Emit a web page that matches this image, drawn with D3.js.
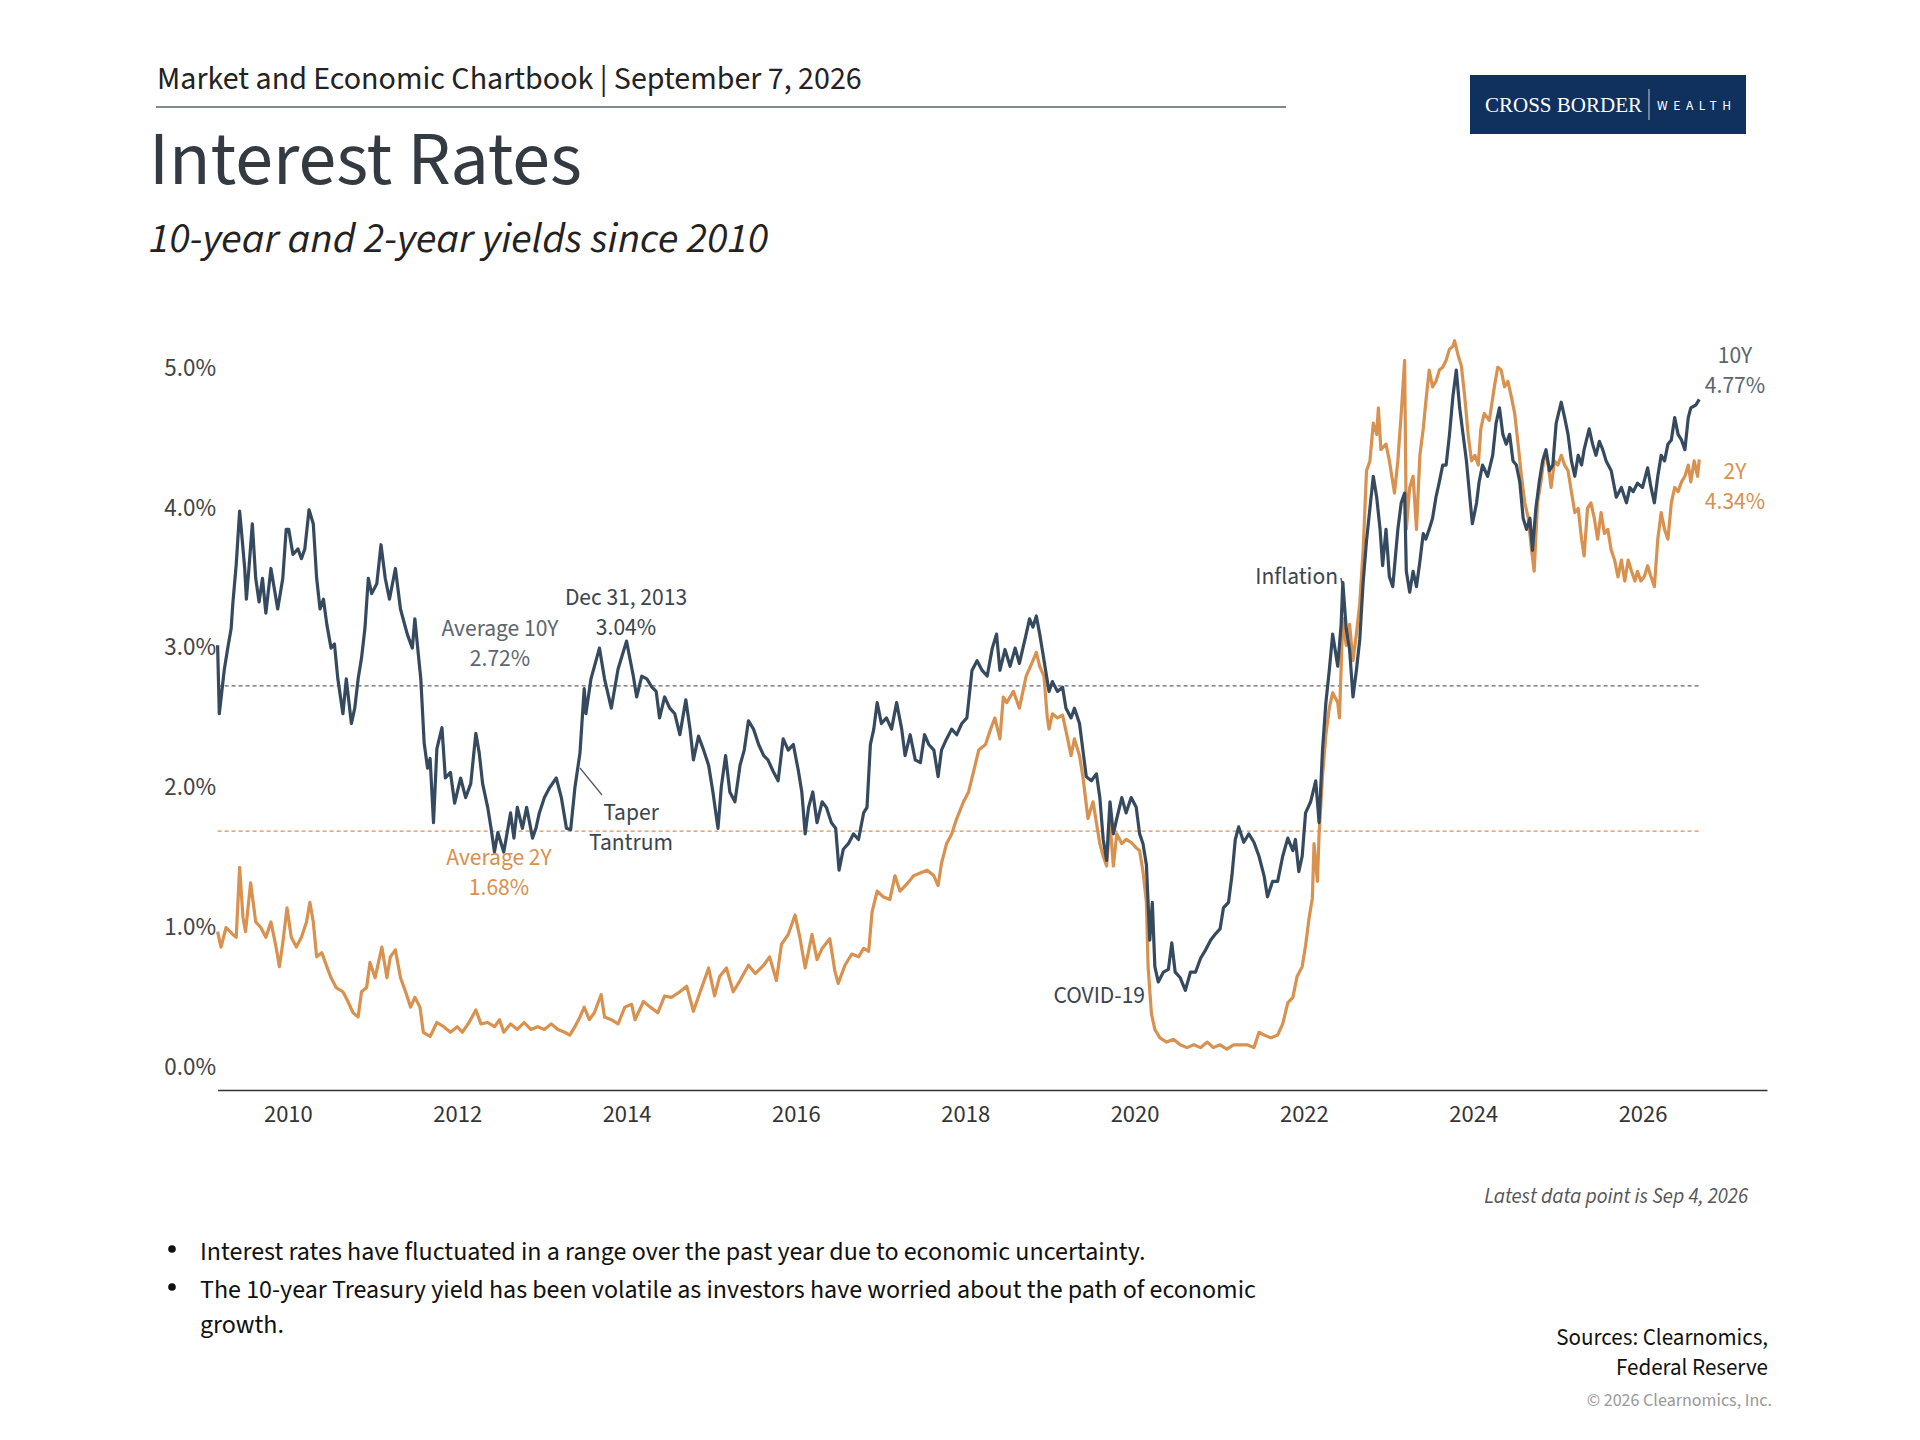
<!DOCTYPE html>
<html lang="en">
<head>
<meta charset="utf-8" />
<title>Interest Rates</title>
<script src="https://cdnjs.cloudflare.com/ajax/libs/d3/7.8.5/d3.min.js"></script>
<style>
  body { margin: 0; background: #fff; }
  svg { display: block; font-family: "Source Sans Pro", "Source Sans 3", Lato, "Noto Sans", sans-serif; }
</style>
</head>
<body>
<script>
// 10-year yield, [decimal year, %]
var tenYear = [
  [2009.17,3.01],[2009.19,2.52],[2009.25,2.84],[2009.29,2.99],[2009.33,3.13],[2009.35,3.31],[2009.39,3.59],
  [2009.43,3.97],[2009.45,3.84],[2009.49,3.56],[2009.51,3.34],[2009.54,3.56],[2009.58,3.88],[2009.62,3.49],
  [2009.66,3.32],[2009.70,3.49],[2009.74,3.24],[2009.80,3.56],[2009.88,3.27],[2009.94,3.49],[2009.98,3.84],
  [2010.01,3.84],[2010.06,3.66],[2010.12,3.70],[2010.16,3.63],[2010.20,3.70],[2010.25,3.98],[2010.30,3.88],
  [2010.34,3.49],[2010.38,3.27],[2010.42,3.34],[2010.46,3.16],[2010.51,2.99],[2010.55,3.02],[2010.59,2.77],
  [2010.65,2.52],[2010.69,2.77],[2010.75,2.45],[2010.79,2.56],[2010.83,2.77],[2010.87,2.92],[2010.91,3.13],
  [2010.95,3.49],[2010.99,3.38],[2011.05,3.45],[2011.10,3.73],[2011.15,3.49],[2011.20,3.34],[2011.27,3.56],
  [2011.33,3.27],[2011.41,3.09],[2011.47,2.99],[2011.50,3.20],[2011.54,2.95],[2011.57,2.77],[2011.61,2.31],
  [2011.65,2.13],[2011.68,2.20],[2011.72,1.74],[2011.76,2.27],[2011.82,2.42],[2011.86,2.06],[2011.92,2.10],
  [2011.97,1.88],[2012.04,2.06],[2012.10,1.92],[2012.16,2.02],[2012.22,2.38],[2012.26,2.24],[2012.30,2.02],
  [2012.36,1.85],[2012.40,1.70],[2012.44,1.53],[2012.48,1.67],[2012.55,1.53],[2012.63,1.81],[2012.67,1.63],
  [2012.71,1.85],[2012.77,1.70],[2012.82,1.85],[2012.89,1.63],[2012.93,1.70],[2012.97,1.81],[2013.03,1.92],
  [2013.09,1.99],[2013.17,2.06],[2013.23,1.92],[2013.29,1.70],[2013.34,1.69],[2013.39,1.99],[2013.45,2.24],
  [2013.50,2.70],[2013.52,2.52],[2013.58,2.77],[2013.68,2.99],[2013.74,2.77],[2013.82,2.56],[2013.90,2.84],
  [2014.00,3.04],[2014.08,2.79],[2014.12,2.64],[2014.18,2.79],[2014.24,2.77],[2014.30,2.71],[2014.35,2.68],
  [2014.39,2.49],[2014.45,2.64],[2014.51,2.56],[2014.57,2.52],[2014.63,2.37],[2014.70,2.62],[2014.75,2.41],
  [2014.79,2.19],[2014.85,2.36],[2014.91,2.26],[2014.97,2.15],[2015.02,1.96],[2015.08,1.70],[2015.12,2.00],
  [2015.17,2.22],[2015.22,1.96],[2015.28,1.89],[2015.34,2.15],[2015.39,2.26],[2015.44,2.47],[2015.50,2.41],
  [2015.56,2.30],[2015.62,2.22],[2015.67,2.19],[2015.73,2.11],[2015.79,2.04],[2015.85,2.34],[2015.91,2.26],
  [2015.97,2.30],[2016.03,2.11],[2016.07,1.96],[2016.11,1.66],[2016.15,1.85],[2016.20,1.96],[2016.25,1.74],
  [2016.31,1.89],[2016.36,1.85],[2016.42,1.74],[2016.47,1.70],[2016.51,1.40],[2016.56,1.55],[2016.62,1.59],
  [2016.68,1.66],[2016.74,1.62],[2016.80,1.81],[2016.84,1.85],[2016.88,2.30],[2016.92,2.41],[2016.96,2.60],
  [2017.01,2.45],[2017.07,2.49],[2017.13,2.41],[2017.19,2.60],[2017.25,2.41],[2017.29,2.22],[2017.35,2.37],
  [2017.41,2.19],[2017.47,2.17],[2017.52,2.37],[2017.57,2.30],[2017.63,2.26],[2017.68,2.07],[2017.72,2.26],
  [2017.78,2.34],[2017.84,2.41],[2017.90,2.37],[2017.96,2.45],[2018.02,2.49],[2018.08,2.83],[2018.14,2.90],
  [2018.20,2.83],[2018.26,2.79],[2018.32,2.99],[2018.37,3.09],[2018.41,2.83],[2018.47,2.98],[2018.53,2.86],
  [2018.59,2.99],[2018.64,2.88],[2018.72,3.09],[2018.76,3.20],[2018.80,3.14],[2018.84,3.22],[2018.88,3.09],
  [2018.91,2.98],[2018.95,2.83],[2018.99,2.68],[2019.03,2.75],[2019.09,2.68],[2019.15,2.71],[2019.19,2.56],
  [2019.25,2.49],[2019.29,2.56],[2019.35,2.45],[2019.39,2.26],[2019.43,2.07],[2019.49,2.04],[2019.55,2.09],
  [2019.59,1.92],[2019.63,1.62],[2019.67,1.47],[2019.71,1.89],[2019.75,1.66],[2019.79,1.77],[2019.85,1.92],
  [2019.90,1.81],[2019.96,1.92],[2020.02,1.85],[2020.06,1.66],[2020.10,1.59],[2020.14,1.44],[2020.18,0.90],
  [2020.21,1.17],[2020.24,0.71],[2020.28,0.60],[2020.34,0.67],[2020.40,0.69],[2020.44,0.88],[2020.48,0.67],
  [2020.54,0.63],[2020.60,0.54],[2020.66,0.67],[2020.72,0.67],[2020.78,0.77],[2020.84,0.83],[2020.90,0.90],
  [2020.95,0.94],[2021.01,0.98],[2021.05,1.13],[2021.11,1.17],[2021.15,1.36],[2021.19,1.62],[2021.23,1.71],
  [2021.29,1.60],[2021.35,1.66],[2021.41,1.60],[2021.47,1.50],[2021.53,1.36],[2021.57,1.21],[2021.63,1.32],
  [2021.69,1.32],[2021.75,1.50],[2021.81,1.63],[2021.87,1.54],[2021.90,1.62],[2021.94,1.39],[2021.98,1.50],
  [2022.02,1.81],[2022.08,1.89],[2022.14,2.04],[2022.18,1.74],[2022.22,2.26],[2022.26,2.60],[2022.30,2.83],
  [2022.34,3.09],[2022.40,2.86],[2022.44,3.16],[2022.46,3.46],[2022.50,3.13],[2022.54,2.98],[2022.58,2.64],
  [2022.62,2.83],[2022.66,3.05],[2022.70,3.46],[2022.74,3.76],[2022.78,3.99],[2022.82,4.22],[2022.86,4.07],
  [2022.90,3.84],[2022.93,3.58],[2022.97,3.84],[2023.01,3.50],[2023.05,3.43],[2023.11,3.84],[2023.15,4.03],
  [2023.19,4.10],[2023.21,3.54],[2023.25,3.39],[2023.29,3.54],[2023.33,3.43],[2023.37,3.61],[2023.41,3.81],
  [2023.44,3.77],[2023.48,3.84],[2023.52,3.92],[2023.56,4.07],[2023.60,4.18],[2023.64,4.30],[2023.68,4.30],
  [2023.72,4.52],[2023.76,4.79],[2023.80,4.98],[2023.84,4.71],[2023.88,4.52],[2023.92,4.33],[2023.96,4.07],
  [2023.99,3.88],[2024.04,4.03],[2024.07,4.18],[2024.11,4.30],[2024.17,4.22],[2024.23,4.37],[2024.27,4.60],
  [2024.31,4.71],[2024.35,4.52],[2024.39,4.45],[2024.43,4.52],[2024.47,4.33],[2024.51,4.30],[2024.55,4.18],
  [2024.59,3.92],[2024.63,3.84],[2024.67,3.92],[2024.70,3.69],[2024.74,3.99],[2024.78,4.18],[2024.82,4.33],
  [2024.86,4.41],[2024.90,4.26],[2024.94,4.30],[2024.98,4.60],[2025.04,4.75],[2025.08,4.64],[2025.12,4.52],
  [2025.16,4.33],[2025.20,4.22],[2025.24,4.37],[2025.28,4.30],[2025.31,4.41],[2025.37,4.56],[2025.41,4.45],
  [2025.45,4.37],[2025.49,4.47],[2025.53,4.41],[2025.57,4.33],[2025.63,4.26],[2025.69,4.07],[2025.75,4.14],
  [2025.81,4.03],[2025.85,4.14],[2025.89,4.11],[2025.94,4.17],[2026.00,4.14],[2026.06,4.28],[2026.10,4.14],
  [2026.14,4.03],[2026.18,4.22],[2026.22,4.37],[2026.26,4.33],[2026.30,4.45],[2026.34,4.48],[2026.38,4.64],
  [2026.42,4.52],[2026.46,4.48],[2026.50,4.41],[2026.54,4.64],[2026.57,4.71],[2026.63,4.73],[2026.67,4.77]
];

// 2-year yield, [decimal year, %]
var twoYear = [
  [2009.17,0.96],[2009.21,0.85],[2009.27,0.99],[2009.35,0.94],[2009.39,0.92],[2009.43,1.42],[2009.47,1.06],
  [2009.50,0.96],[2009.56,1.31],[2009.62,1.03],[2009.68,0.99],[2009.74,0.92],[2009.80,1.03],[2009.86,0.85],
  [2009.90,0.71],[2009.94,0.88],[2009.99,1.13],[2010.04,0.92],[2010.10,0.85],[2010.16,0.92],[2010.22,1.03],
  [2010.26,1.17],[2010.30,1.03],[2010.34,0.78],[2010.40,0.81],[2010.46,0.71],[2010.51,0.63],[2010.57,0.56],
  [2010.65,0.53],[2010.71,0.46],[2010.77,0.38],[2010.83,0.35],[2010.87,0.53],[2010.93,0.56],[2010.97,0.74],
  [2011.03,0.63],[2011.11,0.85],[2011.17,0.63],[2011.21,0.78],[2011.27,0.83],[2011.33,0.63],[2011.39,0.53],
  [2011.45,0.42],[2011.50,0.49],[2011.56,0.42],[2011.60,0.24],[2011.68,0.21],[2011.76,0.31],[2011.84,0.28],
  [2011.92,0.24],[2012.00,0.28],[2012.06,0.24],[2012.14,0.31],[2012.22,0.40],[2012.28,0.30],[2012.36,0.31],
  [2012.44,0.28],[2012.50,0.33],[2012.55,0.24],[2012.63,0.30],[2012.71,0.26],[2012.79,0.31],[2012.87,0.26],
  [2012.95,0.28],[2013.03,0.26],[2013.11,0.30],[2013.19,0.26],[2013.27,0.24],[2013.33,0.22],[2013.39,0.28],
  [2013.45,0.35],[2013.50,0.42],[2013.56,0.33],[2013.62,0.38],[2013.70,0.51],[2013.74,0.35],[2013.82,0.33],
  [2013.90,0.30],[2013.98,0.42],[2014.06,0.44],[2014.10,0.33],[2014.20,0.46],[2014.28,0.42],[2014.37,0.38],
  [2014.45,0.50],[2014.53,0.49],[2014.63,0.53],[2014.71,0.57],[2014.79,0.39],[2014.87,0.53],[2014.97,0.70],
  [2015.04,0.50],[2015.10,0.64],[2015.18,0.70],[2015.26,0.53],[2015.34,0.61],[2015.44,0.72],[2015.52,0.66],
  [2015.62,0.72],[2015.69,0.78],[2015.77,0.61],[2015.83,0.87],[2015.91,0.94],[2015.99,1.08],[2016.05,0.91],
  [2016.11,0.70],[2016.19,0.94],[2016.25,0.76],[2016.31,0.84],[2016.40,0.91],[2016.46,0.68],[2016.50,0.59],
  [2016.58,0.72],[2016.66,0.80],[2016.74,0.78],[2016.80,0.84],[2016.86,0.82],[2016.90,1.10],[2016.96,1.25],
  [2017.03,1.21],[2017.11,1.19],[2017.17,1.36],[2017.23,1.25],[2017.31,1.30],[2017.39,1.36],[2017.47,1.38],
  [2017.55,1.40],[2017.63,1.36],[2017.68,1.29],[2017.72,1.45],[2017.78,1.59],[2017.84,1.66],[2017.90,1.77],
  [2017.98,1.89],[2018.04,1.96],[2018.10,2.11],[2018.16,2.26],[2018.24,2.30],[2018.30,2.41],[2018.35,2.49],
  [2018.41,2.34],[2018.45,2.64],[2018.49,2.60],[2018.57,2.68],[2018.64,2.56],[2018.72,2.79],[2018.80,2.90],
  [2018.84,2.96],[2018.88,2.86],[2018.93,2.79],[2018.97,2.49],[2018.99,2.41],[2019.03,2.52],[2019.09,2.49],
  [2019.15,2.51],[2019.21,2.34],[2019.25,2.22],[2019.29,2.34],[2019.35,2.22],[2019.39,2.07],[2019.45,1.77],
  [2019.51,1.89],[2019.55,1.74],[2019.59,1.59],[2019.63,1.50],[2019.67,1.43],[2019.71,1.74],[2019.75,1.43],
  [2019.79,1.66],[2019.85,1.59],[2019.90,1.62],[2019.96,1.60],[2020.02,1.56],[2020.06,1.54],[2020.10,1.39],
  [2020.14,1.17],[2020.16,0.71],[2020.20,0.37],[2020.24,0.26],[2020.30,0.20],[2020.38,0.17],[2020.46,0.19],
  [2020.54,0.15],[2020.62,0.13],[2020.70,0.15],[2020.78,0.13],[2020.86,0.17],[2020.93,0.13],[2021.01,0.15],
  [2021.09,0.12],[2021.17,0.15],[2021.25,0.15],[2021.33,0.15],[2021.41,0.13],[2021.47,0.24],[2021.53,0.22],
  [2021.61,0.20],[2021.69,0.22],[2021.75,0.30],[2021.81,0.45],[2021.87,0.49],[2021.92,0.64],[2021.98,0.71],
  [2022.02,0.86],[2022.06,1.05],[2022.10,1.20],[2022.12,1.59],[2022.16,1.32],[2022.18,1.66],[2022.22,2.07],
  [2022.26,2.37],[2022.30,2.56],[2022.34,2.67],[2022.40,2.60],[2022.42,2.49],[2022.46,3.20],[2022.50,3.01],
  [2022.54,3.16],[2022.58,2.90],[2022.62,3.09],[2022.66,3.31],[2022.70,3.69],[2022.74,4.26],[2022.78,4.33],
  [2022.82,4.60],[2022.86,4.52],[2022.88,4.71],[2022.91,4.41],[2022.97,4.45],[2023.01,4.33],[2023.07,4.10],
  [2023.11,4.33],[2023.15,4.67],[2023.19,5.05],[2023.21,3.84],[2023.25,4.14],[2023.29,4.22],[2023.33,3.84],
  [2023.37,4.37],[2023.41,4.56],[2023.44,4.75],[2023.48,4.98],[2023.52,4.86],[2023.56,4.90],[2023.60,4.98],
  [2023.64,5.00],[2023.68,5.05],[2023.72,5.13],[2023.76,5.15],[2023.78,5.19],[2023.82,5.09],[2023.86,5.01],
  [2023.90,4.79],[2023.94,4.52],[2023.98,4.33],[2024.02,4.37],[2024.06,4.30],[2024.09,4.56],[2024.13,4.67],
  [2024.19,4.62],[2024.25,4.86],[2024.29,5.00],[2024.33,4.98],[2024.37,4.86],[2024.41,4.90],[2024.45,4.79],
  [2024.49,4.67],[2024.53,4.45],[2024.57,4.22],[2024.61,4.03],[2024.65,3.92],[2024.69,3.69],[2024.72,3.54],
  [2024.76,4.03],[2024.80,4.18],[2024.84,4.37],[2024.88,4.33],[2024.92,4.14],[2024.96,4.33],[2025.00,4.30],
  [2025.04,4.37],[2025.08,4.30],[2025.12,4.26],[2025.16,4.11],[2025.20,3.96],[2025.24,3.99],[2025.28,3.77],
  [2025.31,3.65],[2025.35,3.99],[2025.39,4.03],[2025.43,3.92],[2025.47,3.77],[2025.51,3.96],[2025.55,3.81],
  [2025.59,3.84],[2025.63,3.69],[2025.67,3.62],[2025.71,3.50],[2025.75,3.62],[2025.79,3.47],[2025.83,3.62],
  [2025.87,3.54],[2025.91,3.47],[2025.94,3.54],[2025.98,3.47],[2026.02,3.50],[2026.06,3.58],[2026.10,3.50],
  [2026.14,3.43],[2026.18,3.77],[2026.22,3.96],[2026.26,3.84],[2026.30,3.77],[2026.34,4.03],[2026.38,4.14],
  [2026.42,4.11],[2026.46,4.18],[2026.50,4.22],[2026.54,4.30],[2026.57,4.18],[2026.61,4.33],[2026.65,4.22],
  [2026.67,4.34]
];

var avg10 = 2.72;
var avg2 = 1.68;
var yTicks = [0, 1, 2, 3, 4, 5];
var xTicks = [2010, 2012, 2014, 2016, 2018, 2020, 2022, 2024, 2026];
var bullets = [
  ["Interest rates have fluctuated in a range over the past year due to economic uncertainty."],
  ["The 10-year Treasury yield has been volatile as investors have worried about the path of economic", "growth."]
];

var navy = "#354a5f", orange = "#d8914f", grey = "#5b6670", ink = "#3a4550";

var svg = d3.select("body").append("svg")
  .attr("width", 1920)
  .attr("height", 1440);

// header
svg.append("text").attr("x", 157).attr("y", 89)
  .attr("font-size", 32).attr("fill", "#222")
  .text("Market and Economic Chartbook | September 7, 2026");
svg.append("line").attr("x1", 156).attr("x2", 1286).attr("y1", 107).attr("y2", 107)
  .attr("stroke", "#56616b").attr("stroke-width", 1.5);
svg.append("text").attr("x", 149).attr("y", 184)
  .attr("font-size", 76).attr("fill", "#333a42")
  .text("Interest Rates");
svg.append("text").attr("x", 149).attr("y", 252)
  .attr("font-size", 42.5).attr("font-style", "italic").attr("fill", "#222")
  .text("10-year and 2-year yields since 2010");

// logo
var logo = svg.append("g");
logo.append("rect").attr("x", 1470).attr("y", 75).attr("width", 276).attr("height", 59).attr("fill", "#10305e");
logo.append("text").attr("x", 1485).attr("y", 112)
  .attr("font-family", "'Liberation Serif', 'DejaVu Serif', serif")
  .attr("font-size", 21).attr("fill", "#fff").text("CROSS BORDER");
logo.append("line").attr("x1", 1649).attr("x2", 1649).attr("y1", 89).attr("y2", 120)
  .attr("stroke", "#c9d2de").attr("stroke-width", 1);
logo.append("text").attr("x", 1657).attr("y", 110)
  .attr("font-size", 13.5).attr("letter-spacing", 5.6).attr("fill", "#fff").text("WEALTH");

// scales
var x = d3.scaleLinear().domain([2009.17, 2027.47]).range([217.6, 1767]);
var y = d3.scaleLinear().domain([0, 5]).range([1065.8, 367.3]);
var xEnd = d3.max(tenYear, function (d) { return d[0]; });

// y labels
svg.append("g").selectAll("text")
  .data(yTicks).enter().append("text")
  .attr("x", 216).attr("y", function (d) { return y(d); })
  .attr("dy", "0.35em").attr("text-anchor", "end")
  .attr("font-size", 25).attr("fill", "#444")
  .text(function (d) { return d.toFixed(1) + "%"; });

// x axis
var xAxis = d3.axisBottom(x).tickValues(xTicks).tickSize(0).tickPadding(15).tickFormat(d3.format("d"));
var gx = svg.append("g").attr("transform", "translate(0,1090)").call(xAxis)
  .attr("font-family", null).attr("font-size", null);
gx.select(".domain").attr("stroke", "#333").attr("stroke-width", 1.5);
gx.selectAll("text").attr("font-size", 24.5).attr("fill", "#333");

// averages
svg.append("line").attr("x1", x(2009.17)).attr("x2", x(xEnd))
  .attr("y1", y(avg10)).attr("y2", y(avg10))
  .attr("stroke", "#666").attr("stroke-width", 1.3).attr("stroke-dasharray", "4,3");
svg.append("line").attr("x1", x(2009.17)).attr("x2", x(xEnd))
  .attr("y1", y(avg2)).attr("y2", y(avg2))
  .attr("stroke", orange).attr("stroke-width", 1.3).attr("stroke-dasharray", "4,3");

// series
var line = d3.line()
  .x(function (d) { return x(d[0]); })
  .y(function (d) { return y(d[1]); });
svg.append("path").datum(twoYear).attr("d", line)
  .attr("fill", "none").attr("stroke", orange).attr("stroke-width", 3.2).attr("stroke-linejoin", "round");
svg.append("path").datum(tenYear).attr("d", line)
  .attr("fill", "none").attr("stroke", navy).attr("stroke-width", 3.2).attr("stroke-linejoin", "round");

// annotations
function label(lines, cx, cy, color, anchor) {
  var t = svg.append("text").attr("font-size", 23.5).attr("fill", color)
    .attr("text-anchor", anchor || "middle");
  lines.forEach(function (s, i) {
    t.append("tspan").attr("x", cx).attr("y", cy + i * 30).attr("dy", "0.35em").text(s);
  });
}
label(["Average 10Y", avg10.toFixed(2) + "%"], 500, 628, grey);
label(["Dec 31, 2013", "3.04%"], 626, 597, ink);
label(["Taper", "Tantrum"], 631, 812, ink);
label(["Average 2Y", avg2.toFixed(2) + "%"], 499, 857, orange);
label(["Inflation"], 1338, 576, ink, "end");
label(["COVID-19"], 1145, 995, ink, "end");
label(["10Y", "4.77%"], 1735, 355, grey);
label(["2Y", "4.34%"], 1735, 471, orange);
svg.append("line").attr("x1", 580).attr("y1", 768).attr("x2", 602).attr("y2", 795)
  .attr("stroke", "#555").attr("stroke-width", 1.2);
svg.append("line").attr("x1", 1341).attr("y1", 578).attr("x2", 1342).attr("y2", 585)
  .attr("stroke", "#555").attr("stroke-width", 1.5);

svg.append("text").attr("x", 1748).attr("y", 1203).attr("text-anchor", "end")
  .attr("font-size", 21).attr("font-style", "italic").attr("fill", "#555")
  .text("Latest data point is Sep 4, 2026");

// bullets
var by = [1251, 1289];
bullets.forEach(function (b, i) {
  svg.append("circle").attr("cx", 172).attr("cy", by[i] - 2).attr("r", 3.8).attr("fill", "#111");
  b.forEach(function (s, j) {
    svg.append("text").attr("x", 200).attr("y", by[i] + j * 35).attr("dy", "0.35em")
      .attr("font-size", 26).attr("fill", "#111").text(s);
  });
});

// sources
svg.append("text").attr("x", 1768).attr("y", 1337).attr("dy", "0.35em").attr("text-anchor", "end")
  .attr("font-size", 23).attr("fill", "#111").text("Sources: Clearnomics,");
svg.append("text").attr("x", 1768).attr("y", 1367).attr("dy", "0.35em").attr("text-anchor", "end")
  .attr("font-size", 23).attr("fill", "#111").text("Federal Reserve");
svg.append("text").attr("x", 1772).attr("y", 1400).attr("dy", "0.35em").attr("text-anchor", "end")
  .attr("font-size", 18).attr("fill", "#999").text("\u00a9 2026 Clearnomics, Inc.");
</script>
</body>
</html>
